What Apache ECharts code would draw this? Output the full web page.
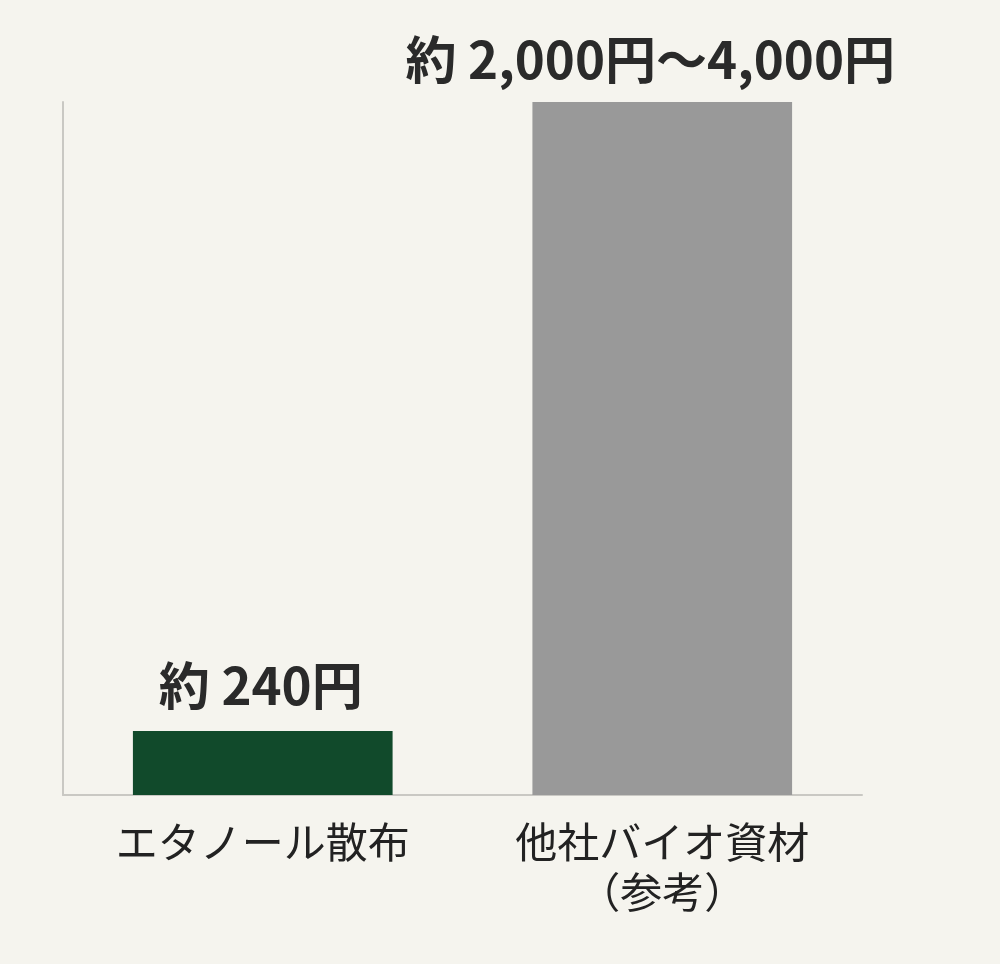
<!DOCTYPE html>
<html>
<head>
<meta charset="utf-8">
<script src="https://cdn.jsdelivr.net/npm/echarts@6/dist/echarts.min.js"></script>
<style>
html,body{margin:0;padding:0;background:#f5f4ee;}
#c{width:1000px;height:964px;}
</style>
</head>
<body>
<div id="c"></div>
<script>
const categories = ['エタノール散布', '他社バイオ資材\n（参考）'];
const values = [240, 2600];
const valueLabels = ['約 240円', '約 2,000円～4,000円'];
const barColors = ['#114a2b', '#999999'];

const chart = echarts.init(document.getElementById('c'));
chart.setOption({
  backgroundColor: '#f5f4ee',
  animation: false,
  grid: {left: 63, right: 138, top: 102, bottom: 169},
  xAxis: {
    type: 'category',
    data: categories,
    axisLine: {show: true, lineStyle: {color: '#c9c8c3', width: 2}},
    axisTick: {show: false},
    axisLabel: {
      margin: 22,
      fontSize: 42,
      lineHeight: 50,
      color: '#222222',
      fontFamily: 'Noto Sans CJK JP'
    }
  },
  yAxis: {
    type: 'value',
    min: 0,
    max: 2600,
    axisLine: {show: true, lineStyle: {color: '#c9c8c3', width: 2}},
    axisTick: {show: false},
    axisLabel: {show: false},
    splitLine: {show: false}
  },
  series: [{
    type: 'bar',
    barWidth: '65%',
    data: values.map((v, i) => ({
      value: v,
      itemStyle: {color: barColors[i]},
      label: {
        show: true,
        position: 'top',
        distance: i === 0 ? 20 : 17,
        offset: i === 0 ? [-2, 0] : [-12, 0],
        formatter: valueLabels[i],
        fontSize: i === 0 ? 51 : 51,
        fontWeight: 'bold',
        color: '#2a2a2a',
        fontFamily: 'Noto Sans CJK JP'
      }
    }))
  }]
});
</script>
</body>
</html>
